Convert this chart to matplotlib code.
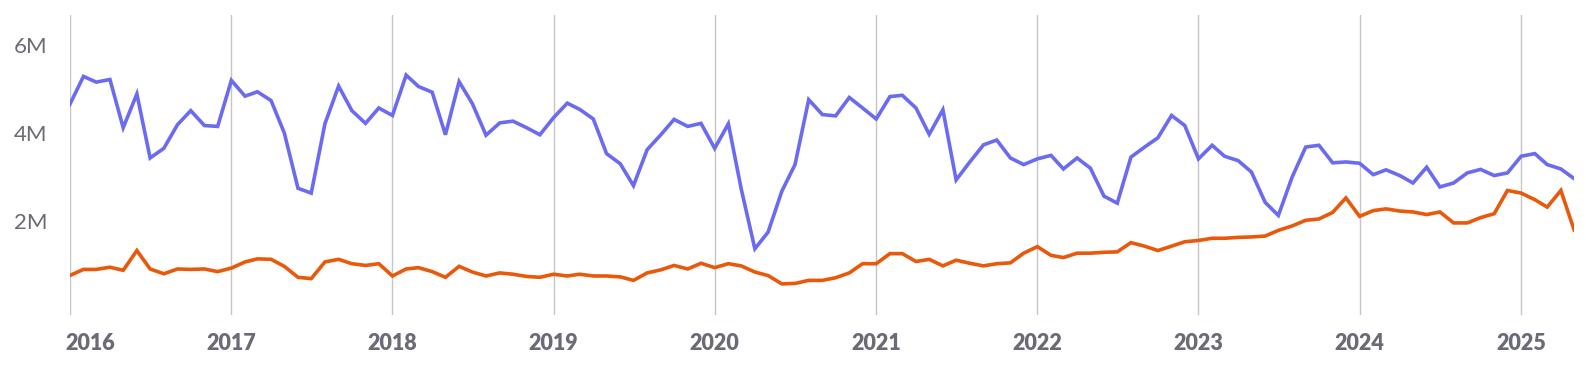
import pandas as pd
import matplotlib
matplotlib.use('Agg')
import matplotlib.pyplot as plt
import matplotlib.dates as mdates
import matplotlib.transforms as mtransforms
from matplotlib.ticker import FuncFormatter

plt.rcParams['font.family'] = ['Lato', 'DejaVu Sans']

months = pd.date_range('2016-01-01', '2025-05-01', freq='MS')

# monthly values, millions
blue_vals = [
    4.65, 5.29, 5.16, 5.22, 4.12, 4.89, 3.43, 3.65, 4.19, 4.51, 4.17, 4.15,
    5.20, 4.84, 4.94, 4.74, 4.00, 2.74, 2.63, 4.21, 5.07, 4.51, 4.22, 4.57,
    4.40, 5.32, 5.06, 4.93, 3.96, 5.17, 4.67, 3.95, 4.23, 4.27, 4.12, 3.96,
    4.35, 4.68, 4.54, 4.32, 3.53, 3.30, 2.80, 3.62, 3.96, 4.31, 4.15, 4.22,
    3.65, 4.21, 2.73, 1.36, 1.74, 2.67, 3.28, 4.76, 4.42, 4.39, 4.81, 4.57,
    4.32, 4.83, 4.86, 4.57, 3.97, 4.53, 2.93, 3.34, 3.73, 3.84, 3.43, 3.28,
    3.41, 3.49, 3.18, 3.43, 3.20, 2.56, 2.40, 3.45, 3.68, 3.89, 4.40, 4.17,
    3.41, 3.72, 3.47, 3.37, 3.11, 2.42, 2.12, 2.99, 3.68, 3.72, 3.32, 3.34,
    3.31, 3.05, 3.16, 3.03, 2.86, 3.22, 2.77, 2.86, 3.09, 3.17, 3.03, 3.09,
    3.47, 3.53, 3.28, 3.18, 2.96,
]
orange_vals = [
    0.75, 0.89, 0.89, 0.94, 0.87, 1.32, 0.90, 0.79, 0.90, 0.89, 0.90, 0.84,
    0.92, 1.06, 1.13, 1.12, 0.96, 0.71, 0.68, 1.06, 1.12, 1.02, 0.98, 1.02,
    0.74, 0.90, 0.93, 0.84, 0.71, 0.96, 0.83, 0.74, 0.81, 0.78, 0.73, 0.71,
    0.78, 0.74, 0.78, 0.74, 0.74, 0.72, 0.64, 0.81, 0.88, 0.98, 0.90, 1.03,
    0.93, 1.02, 0.97, 0.83, 0.75, 0.56, 0.57, 0.64, 0.64, 0.70, 0.81, 1.02,
    1.02, 1.25, 1.25, 1.07, 1.12, 0.97, 1.10, 1.03, 0.97, 1.02, 1.04, 1.26,
    1.41, 1.21, 1.16, 1.26, 1.26, 1.28, 1.29, 1.50, 1.42, 1.32, 1.42, 1.52,
    1.55, 1.60, 1.60, 1.62, 1.63, 1.65, 1.78, 1.88, 2.01, 2.04, 2.19, 2.52,
    2.10, 2.23, 2.27, 2.22, 2.20, 2.14, 2.20, 1.95, 1.95, 2.07, 2.16, 2.69,
    2.63, 2.48, 2.31, 2.69, 1.79,
]
y_ticks = [2, 4, 6]

text_color = '#6b6b78'

fig = plt.figure(figsize=(15.86, 3.8), dpi=100)
ax = fig.add_axes([0.044, 0.171, 0.9485, 0.7895])

ax.plot(months, [v * 1e6 for v in blue_vals], color='#6b6bf2', lw=2.6, solid_joinstyle='miter', zorder=3)
ax.plot(months, [v * 1e6 for v in orange_vals], color='#e8590c', lw=2.6, solid_joinstyle='miter', zorder=3)

ax.set_xlim(months[0], months[-1])
ax.set_ylim(-0.15e6, 6.69e6)

ax.xaxis.set_major_locator(mdates.YearLocator())
ax.xaxis.set_major_formatter(mdates.DateFormatter('%Y'))
ax.set_yticks([t * 1e6 for t in y_ticks])
ax.yaxis.set_major_formatter(FuncFormatter(lambda v, p: f'{v / 1e6:.0f}M'))

ax.grid(axis='x', color='#c6c6c6', lw=1)
ax.grid(axis='y', visible=False)
for s in ax.spines.values():
    s.set_visible(False)

ax.tick_params(axis='x', length=0, pad=13, labelsize=15.5, labelcolor=text_color)
ax.tick_params(axis='y', length=0, pad=16, labelsize=16, labelcolor=text_color)
for lbl in ax.get_xticklabels():
    lbl.set_fontweight('heavy')

# first year label sits to the right of its gridline
fig.canvas.draw()
first = ax.get_xticklabels()[0]
first.set_horizontalalignment('left')
first.set_transform(first.get_transform() + mtransforms.ScaledTranslation(-4 / 100, 0, fig.dpi_scale_trans))

plt.savefig('out.png', dpi=100)
plt.close()
